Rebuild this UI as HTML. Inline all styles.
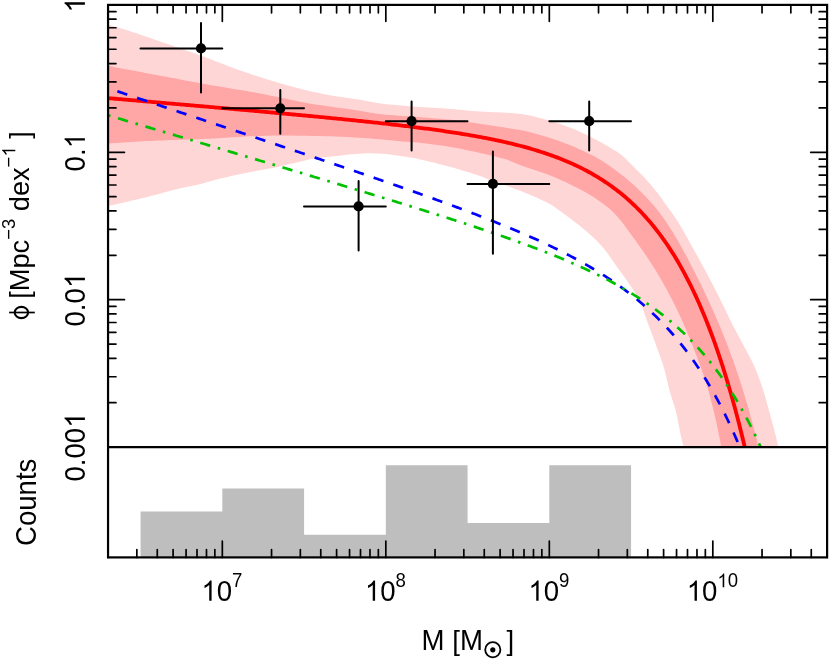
<!DOCTYPE html>
<html><head><meta charset="utf-8"><title>chart</title><style>html,body{margin:0;padding:0;background:#fff;overflow:hidden}svg{display:block}</style></head><body>
<svg width="830" height="664" viewBox="0 0 830 664">
<rect width="830" height="664" fill="#fff"/>
<defs><clipPath id="cp"><rect x="108.0" y="4.9" width="719.1" height="442.2"/></clipPath></defs>
<path d="M108.00 24.40 L112.20 25.64 L116.38 26.90 L120.56 28.18 L124.74 29.49 L128.90 30.82 L133.06 32.16 L137.21 33.54 L141.35 34.95 L145.48 36.40 L149.60 37.86 L153.72 39.33 L157.84 40.78 L161.98 42.21 L166.12 43.61 L170.26 45.00 L174.41 46.39 L178.55 47.79 L182.69 49.20 L186.82 50.64 L190.95 52.09 L195.07 53.55 L199.18 55.03 L203.29 56.53 L207.40 58.03 L211.49 59.56 L215.58 61.13 L219.65 62.73 L223.71 64.34 L227.79 65.93 L231.88 67.48 L235.98 68.98 L240.10 70.44 L244.24 71.87 L248.38 73.28 L252.53 74.66 L256.68 76.03 L260.84 77.37 L265.01 78.70 L269.18 80.00 L273.37 81.29 L277.56 82.54 L281.76 83.75 L285.97 84.93 L290.18 86.09 L294.41 87.23 L298.64 88.33 L302.88 89.40 L307.13 90.43 L311.39 91.41 L315.66 92.36 L319.94 93.27 L324.23 94.13 L328.52 94.94 L332.83 95.70 L337.14 96.39 L341.47 97.04 L345.80 97.66 L350.13 98.28 L354.45 98.92 L358.77 99.60 L363.08 100.35 L367.38 101.19 L371.67 102.04 L375.98 102.80 L380.30 103.41 L384.63 103.93 L388.98 104.40 L393.33 104.83 L397.69 105.23 L402.05 105.62 L406.41 105.99 L410.77 106.37 L415.13 106.73 L419.49 107.06 L423.85 107.35 L428.22 107.61 L432.58 107.84 L436.95 108.08 L441.32 108.32 L445.68 108.58 L450.04 108.88 L454.40 109.25 L458.75 109.67 L463.11 110.10 L467.46 110.54 L471.81 110.94 L476.17 111.29 L480.53 111.56 L484.90 111.78 L489.27 111.98 L493.64 112.16 L498.01 112.34 L502.38 112.55 L506.74 112.80 L511.11 113.09 L515.48 113.43 L519.83 113.85 L524.14 114.40 L528.44 115.17 L532.72 116.12 L536.98 117.18 L541.22 118.30 L545.44 119.44 L549.65 120.62 L553.84 121.89 L558.01 123.24 L562.15 124.66 L566.27 126.15 L570.35 127.70 L574.39 129.33 L578.40 131.06 L582.39 132.89 L586.34 134.78 L590.27 136.73 L594.17 138.71 L598.04 140.72 L601.88 142.81 L605.69 144.98 L609.46 147.19 L613.21 149.45 L616.96 151.72 L620.53 154.21 L623.82 157.04 L626.96 160.11 L630.05 163.25 L633.16 166.33 L636.28 169.40 L639.38 172.49 L642.42 175.62 L645.41 178.81 L648.34 182.06 L651.22 185.35 L654.04 188.70 L656.77 192.11 L659.41 195.58 L662.00 199.11 L664.55 202.67 L667.09 206.23 L669.66 209.78 L672.24 213.32 L674.76 216.89 L677.16 220.53 L679.45 224.24 L681.68 228.00 L683.85 231.80 L685.98 235.63 L688.10 239.46 L690.21 243.30 L692.35 247.11 L694.49 250.93 L696.62 254.74 L698.75 258.57 L700.86 262.39 L702.97 266.23 L705.06 270.07 L707.12 273.92 L709.17 277.78 L711.20 281.66 L713.20 285.54 L715.19 289.44 L717.17 293.34 L719.13 297.25 L721.08 301.16 L723.01 305.08 L724.91 309.03 L726.80 312.97 L728.69 316.91 L730.62 320.84 L732.59 324.74 L734.63 328.61 L736.69 332.46 L738.77 336.31 L740.84 340.16 L742.89 344.03 L744.92 347.90 L746.99 351.77 L749.06 355.63 L751.08 359.51 L753.02 363.43 L754.83 367.39 L756.51 371.42 L758.11 375.48 L759.64 379.59 L761.09 383.73 L762.49 387.88 L763.81 392.04 L765.06 396.22 L766.24 400.43 L767.38 404.66 L768.51 408.89 L769.66 413.11 L770.83 417.32 L772.00 421.54 L773.16 425.75 L774.30 429.98 L775.38 434.21 L776.41 438.46 L777.38 442.72 L778.30 447.00 L683.70 447.00 L682.74 443.39 L681.82 439.78 L680.95 436.15 L680.16 432.51 L679.45 428.85 L678.77 425.17 L678.09 421.50 L677.38 417.84 L676.60 414.20 L675.71 410.59 L674.69 407.01 L673.57 403.45 L672.42 399.89 L671.27 396.34 L670.17 392.77 L669.17 389.18 L668.26 385.56 L667.40 381.93 L666.56 378.29 L665.70 374.66 L664.79 371.04 L663.80 367.46 L662.70 363.90 L661.52 360.37 L660.28 356.85 L658.99 353.34 L657.70 349.84 L656.41 346.33 L655.14 342.83 L653.85 339.33 L652.55 335.83 L651.24 332.34 L649.93 328.85 L648.62 325.36 L647.33 321.86 L646.08 318.34 L644.86 314.80 L643.64 311.26 L642.37 307.75 L641.00 304.30 L639.49 300.91 L637.75 297.61 L635.88 294.37 L633.95 291.19 L631.93 288.05 L629.85 284.95 L627.75 281.87 L625.62 278.80 L623.45 275.77 L621.25 272.76 L619.04 269.75 L616.85 266.74 L614.69 263.70 L612.59 260.60 L610.50 257.50 L608.38 254.43 L606.17 251.44 L603.82 248.57 L601.36 245.76 L598.81 243.02 L596.19 240.34 L593.53 237.74 L590.81 235.21 L588.02 232.73 L585.18 230.31 L582.29 227.93 L579.39 225.58 L576.47 223.26 L573.53 220.97 L570.56 218.72 L567.56 216.50 L564.54 214.30 L561.53 212.11 L558.52 209.90 L555.52 207.66 L552.44 205.58 L549.22 203.74 L545.91 202.03 L542.54 200.40 L539.13 198.84 L535.72 197.32 L532.31 195.82 L528.87 194.37 L525.42 192.97 L521.95 191.59 L518.47 190.24 L514.99 188.90 L511.50 187.58 L508.00 186.29 L504.50 185.02 L500.98 183.76 L497.47 182.51 L493.96 181.25 L490.45 179.98 L486.95 178.68 L483.47 177.36 L479.97 176.06 L476.45 174.85 L472.91 173.68 L469.35 172.55 L465.79 171.45 L462.21 170.38 L458.63 169.33 L455.04 168.30 L451.45 167.30 L447.86 166.32 L444.26 165.35 L440.65 164.39 L437.04 163.46 L433.42 162.54 L429.79 161.66 L426.17 160.79 L422.53 159.96 L418.89 159.16 L415.24 158.37 L411.58 157.66 L407.90 157.07 L404.22 156.49 L400.53 155.93 L396.83 155.39 L393.12 154.90 L389.41 154.46 L385.70 154.08 L381.98 153.79 L378.27 153.58 L374.54 153.42 L370.81 153.32 L367.08 153.32 L363.36 153.45 L359.63 153.66 L355.91 153.91 L352.19 154.19 L348.48 154.58 L344.78 155.03 L341.07 155.48 L337.37 155.89 L333.65 156.28 L329.94 156.66 L326.22 157.05 L322.52 157.48 L318.82 157.94 L315.14 158.46 L311.47 159.09 L307.82 159.85 L304.18 160.69 L300.55 161.56 L296.92 162.42 L293.28 163.26 L289.65 164.12 L286.03 165.00 L282.40 165.87 L278.76 166.69 L275.12 167.46 L271.46 168.17 L267.79 168.85 L264.11 169.50 L260.44 170.17 L256.78 170.86 L253.12 171.58 L249.46 172.30 L245.80 173.04 L242.15 173.79 L238.50 174.55 L234.85 175.33 L231.20 176.11 L227.56 176.91 L223.92 177.73 L220.29 178.59 L216.68 179.49 L213.08 180.48 L209.49 181.51 L205.91 182.54 L202.31 183.54 L198.70 184.44 L195.06 185.26 L191.41 186.01 L187.75 186.75 L184.09 187.50 L180.45 188.30 L176.83 189.17 L173.22 190.09 L169.61 191.05 L166.01 192.03 L162.41 193.02 L158.81 193.99 L155.21 194.94 L151.59 195.85 L147.97 196.74 L144.35 197.63 L140.72 198.51 L137.10 199.38 L133.47 200.24 L129.84 201.09 L126.20 201.94 L122.57 202.77 L118.93 203.59 L115.29 204.41 L111.65 205.21 L108.00 206.00 Z" fill="#ffd6d6" clip-path="url(#cp)"/>
<path d="M108.00 65.80 L112.14 66.59 L116.28 67.39 L120.42 68.18 L124.56 68.97 L128.70 69.76 L132.84 70.54 L136.98 71.33 L141.12 72.11 L145.26 72.89 L149.40 73.67 L153.54 74.45 L157.68 75.23 L161.82 76.00 L165.97 76.78 L170.11 77.56 L174.25 78.34 L178.39 79.11 L182.53 79.89 L186.68 80.66 L190.82 81.43 L194.96 82.19 L199.11 82.95 L203.26 83.70 L207.40 84.44 L211.55 85.17 L215.71 85.89 L219.86 86.59 L224.02 87.29 L228.17 87.99 L232.33 88.70 L236.48 89.41 L240.64 90.11 L244.79 90.82 L248.95 91.53 L253.10 92.25 L257.25 92.99 L261.39 93.76 L265.52 94.57 L269.65 95.40 L273.78 96.25 L277.91 97.10 L282.04 97.95 L286.17 98.80 L290.29 99.67 L294.42 100.55 L298.54 101.42 L302.67 102.25 L306.81 103.04 L310.96 103.76 L315.12 104.41 L319.29 105.02 L323.46 105.61 L327.64 106.19 L331.81 106.79 L335.98 107.38 L340.16 107.96 L344.33 108.54 L348.50 109.12 L352.68 109.71 L356.85 110.32 L361.01 110.96 L365.17 111.68 L369.32 112.44 L373.47 113.16 L377.63 113.77 L381.81 114.24 L386.00 114.64 L390.20 115.01 L394.40 115.35 L398.60 115.66 L402.81 115.95 L407.02 116.24 L411.23 116.54 L415.43 116.84 L419.63 117.17 L423.84 117.51 L428.04 117.83 L432.24 118.15 L436.44 118.48 L440.64 118.83 L444.84 119.20 L449.03 119.61 L453.22 120.08 L457.40 120.60 L461.57 121.16 L465.75 121.75 L469.92 122.35 L474.09 122.96 L478.26 123.57 L482.43 124.17 L486.60 124.80 L490.77 125.43 L494.93 126.07 L499.10 126.72 L503.26 127.36 L507.43 128.01 L511.60 128.63 L515.77 129.26 L519.91 129.98 L524.03 130.83 L528.14 131.77 L532.23 132.80 L536.31 133.90 L540.37 135.05 L544.41 136.24 L548.44 137.46 L552.46 138.74 L556.45 140.09 L560.44 141.50 L564.39 142.97 L568.32 144.49 L572.22 146.06 L576.10 147.69 L579.97 149.39 L583.82 151.15 L587.62 152.98 L591.39 154.89 L595.10 156.86 L598.75 158.92 L602.35 161.12 L605.90 163.42 L609.39 165.80 L612.82 168.23 L616.22 170.72 L619.58 173.26 L622.92 175.87 L626.20 178.54 L629.44 181.26 L632.61 184.03 L635.71 186.86 L638.75 189.75 L641.77 192.70 L644.75 195.71 L647.69 198.77 L650.57 201.90 L653.37 205.07 L656.09 208.30 L658.71 211.58 L661.21 214.89 L663.64 218.27 L666.02 221.70 L668.34 225.18 L670.62 228.71 L672.86 232.28 L675.05 235.89 L677.20 239.54 L679.32 243.21 L681.40 246.91 L683.45 250.63 L685.47 254.37 L687.46 258.12 L689.43 261.88 L691.38 265.64 L693.30 269.40 L695.21 273.15 L697.11 276.90 L698.98 280.66 L700.85 284.43 L702.69 288.21 L704.52 292.01 L706.32 295.82 L708.11 299.65 L709.88 303.48 L711.63 307.33 L713.35 311.18 L715.06 315.05 L716.74 318.93 L718.40 322.81 L720.04 326.70 L721.66 330.60 L723.25 334.51 L724.81 338.43 L726.35 342.35 L727.86 346.27 L729.35 350.20 L730.81 354.14 L732.25 358.09 L733.66 362.06 L735.05 366.04 L736.41 370.03 L737.75 374.03 L739.07 378.03 L740.37 382.05 L741.65 386.07 L742.91 390.10 L744.15 394.14 L745.37 398.17 L746.57 402.21 L747.75 406.25 L748.92 410.30 L750.07 414.35 L751.19 418.41 L752.30 422.47 L753.38 426.55 L754.44 430.63 L755.49 434.71 L756.51 438.80 L757.52 442.90 L758.50 447.00 L721.20 447.00 L720.51 443.13 L719.80 439.26 L719.06 435.40 L718.29 431.55 L717.49 427.71 L716.66 423.87 L715.81 420.03 L714.93 416.20 L714.03 412.37 L713.11 408.54 L712.16 404.72 L711.18 400.91 L710.17 397.12 L709.14 393.33 L708.07 389.56 L706.96 385.80 L705.79 382.05 L704.58 378.32 L703.33 374.59 L702.04 370.87 L700.71 367.17 L699.36 363.47 L697.99 359.78 L696.60 356.10 L695.20 352.43 L693.79 348.77 L692.37 345.11 L690.92 341.45 L689.45 337.81 L687.95 334.17 L686.43 330.54 L684.88 326.92 L683.31 323.32 L681.70 319.73 L680.07 316.16 L678.42 312.61 L676.72 309.07 L675.00 305.54 L673.24 302.02 L671.45 298.51 L669.63 295.02 L667.78 291.55 L665.90 288.09 L663.99 284.65 L662.06 281.23 L660.09 277.83 L658.10 274.46 L656.07 271.11 L654.00 267.77 L651.90 264.46 L649.75 261.16 L647.58 257.87 L645.38 254.61 L643.15 251.36 L640.90 248.13 L638.63 244.92 L636.33 241.73 L634.03 238.55 L631.71 235.38 L629.40 232.18 L627.07 228.96 L624.71 225.77 L622.30 222.62 L619.84 219.54 L617.30 216.55 L614.68 213.69 L611.94 210.97 L609.04 208.37 L605.99 205.88 L602.83 203.49 L599.60 201.19 L596.34 198.99 L593.06 196.87 L589.72 194.81 L586.33 192.81 L582.89 190.87 L579.42 188.99 L575.93 187.17 L572.42 185.40 L568.90 183.68 L565.35 182.01 L561.77 180.38 L558.17 178.80 L554.54 177.27 L550.89 175.78 L547.24 174.34 L543.57 172.96 L539.87 171.65 L536.14 170.41 L532.40 169.20 L528.65 167.99 L524.92 166.75 L521.22 165.45 L517.55 164.03 L513.93 162.46 L510.31 160.92 L506.64 159.58 L502.90 158.45 L499.12 157.41 L495.31 156.44 L491.48 155.53 L487.63 154.66 L483.78 153.81 L479.94 152.97 L476.10 152.12 L472.26 151.28 L468.42 150.45 L464.57 149.64 L460.72 148.85 L456.86 148.10 L453.00 147.39 L449.13 146.74 L445.25 146.12 L441.37 145.52 L437.48 144.95 L433.58 144.41 L429.68 143.90 L425.78 143.42 L421.88 142.99 L417.97 142.61 L414.06 142.28 L410.14 141.98 L406.22 141.69 L402.30 141.39 L398.38 141.06 L394.47 140.69 L390.56 140.31 L386.65 139.92 L382.74 139.55 L378.82 139.21 L374.91 138.90 L370.99 138.60 L367.07 138.31 L363.15 138.04 L359.23 137.78 L355.31 137.54 L351.38 137.31 L347.46 137.08 L343.54 136.86 L339.61 136.66 L335.69 136.49 L331.76 136.34 L327.83 136.23 L323.91 136.13 L319.98 136.04 L316.05 135.96 L312.12 135.89 L308.19 135.83 L304.26 135.77 L300.33 135.70 L296.40 135.63 L292.47 135.58 L288.55 135.53 L284.62 135.50 L280.69 135.50 L276.76 135.54 L272.83 135.60 L268.90 135.69 L264.97 135.80 L261.04 135.92 L257.12 136.03 L253.19 136.18 L249.27 136.36 L245.34 136.57 L241.42 136.78 L237.50 137.01 L233.57 137.23 L229.65 137.47 L225.73 137.72 L221.81 137.99 L217.89 138.25 L213.97 138.49 L210.04 138.70 L206.12 138.87 L202.19 139.04 L198.27 139.18 L194.34 139.32 L190.41 139.45 L186.48 139.57 L182.56 139.70 L178.63 139.82 L174.70 139.95 L170.77 140.08 L166.85 140.23 L162.92 140.38 L159.00 140.55 L155.07 140.73 L151.15 140.92 L147.22 141.12 L143.30 141.33 L139.38 141.54 L135.45 141.76 L131.53 141.99 L127.61 142.23 L123.69 142.47 L119.76 142.72 L115.84 142.97 L111.92 143.23 L108.00 143.50 Z" fill="#ffa6a6" clip-path="url(#cp)"/>
<path d="M140.58 557.40 L140.58 511.60 L222.33 511.60 L222.33 488.40 L304.08 488.40 L304.08 534.70 L385.83 534.70 L385.83 465.30 L467.58 465.30 L467.58 523.00 L549.32 523.00 L549.32 465.30 L631.07 465.30 L631.07 557.40 Z" fill="#bebebe"/>
<path d="M108.05 98.13 L109.85 98.29 L111.65 98.44 L113.46 98.60 L115.26 98.75 L117.06 98.91 L118.86 99.06 L120.66 99.22 L122.47 99.37 L124.27 99.53 L126.07 99.68 L127.87 99.84 L129.68 99.99 L131.48 100.15 L133.28 100.31 L135.08 100.46 L136.88 100.62 L138.69 100.77 L140.49 100.93 L142.29 101.08 L144.09 101.24 L145.89 101.40 L147.70 101.55 L149.50 101.71 L151.30 101.86 L153.10 102.02 L154.91 102.17 L156.71 102.33 L158.51 102.49 L160.31 102.64 L162.11 102.80 L163.92 102.96 L165.72 103.11 L167.52 103.27 L169.32 103.43 L171.12 103.58 L172.93 103.74 L174.73 103.89 L176.53 104.05 L178.33 104.21 L180.14 104.37 L181.94 104.52 L183.74 104.68 L185.54 104.84 L187.34 104.99 L189.15 105.15 L190.95 105.31 L192.75 105.46 L194.55 105.62 L196.35 105.78 L198.16 105.94 L199.96 106.09 L201.76 106.25 L203.56 106.41 L205.37 106.57 L207.17 106.73 L208.97 106.88 L210.77 107.04 L212.57 107.20 L214.38 107.36 L216.18 107.52 L217.98 107.68 L219.78 107.84 L221.58 107.99 L223.39 108.15 L225.19 108.31 L226.99 108.47 L228.79 108.63 L230.59 108.79 L232.40 108.95 L234.20 109.11 L236.00 109.27 L237.80 109.43 L239.61 109.59 L241.41 109.75 L243.21 109.91 L245.01 110.07 L246.81 110.23 L248.62 110.39 L250.42 110.55 L252.22 110.72 L254.02 110.88 L255.82 111.04 L257.63 111.20 L259.43 111.36 L261.23 111.53 L263.03 111.69 L264.84 111.85 L266.64 112.01 L268.44 112.18 L270.24 112.34 L272.04 112.50 L273.85 112.67 L275.65 112.83 L277.45 113.00 L279.25 113.16 L281.05 113.33 L282.86 113.49 L284.66 113.66 L286.46 113.82 L288.26 113.99 L290.07 114.16 L291.87 114.32 L293.67 114.49 L295.47 114.66 L297.27 114.83 L299.08 114.99 L300.88 115.16 L302.68 115.33 L304.48 115.50 L306.28 115.67 L308.09 115.84 L309.89 116.01 L311.69 116.18 L313.49 116.35 L315.29 116.52 L317.10 116.70 L318.90 116.87 L320.70 117.04 L322.50 117.21 L324.31 117.39 L326.11 117.56 L327.91 117.74 L329.71 117.91 L331.51 118.09 L333.32 118.27 L335.12 118.44 L336.92 118.62 L338.72 118.80 L340.52 118.98 L342.33 119.16 L344.13 119.34 L345.93 119.52 L347.73 119.70 L349.54 119.88 L351.34 120.07 L353.14 120.25 L354.94 120.44 L356.74 120.62 L358.55 120.81 L360.35 121.00 L362.15 121.18 L363.95 121.37 L365.75 121.56 L367.56 121.75 L369.36 121.94 L371.16 122.14 L372.96 122.33 L374.77 122.52 L376.57 122.72 L378.37 122.92 L380.17 123.11 L381.97 123.31 L383.78 123.51 L385.58 123.71 L387.38 123.92 L389.18 124.12 L390.98 124.32 L392.79 124.53 L394.59 124.74 L396.39 124.95 L398.19 125.16 L400.00 125.37 L401.80 125.58 L403.60 125.80 L405.40 126.01 L407.20 126.23 L409.01 126.45 L410.81 126.67 L412.61 126.89 L414.41 127.12 L416.21 127.35 L418.02 127.57 L419.82 127.80 L421.62 128.04 L423.42 128.27 L425.22 128.51 L427.03 128.74 L428.83 128.99 L430.63 129.23 L432.43 129.47 L434.24 129.72 L436.04 129.97 L437.84 130.22 L439.64 130.48 L441.44 130.73 L443.25 130.99 L445.05 131.26 L446.85 131.52 L448.65 131.79 L450.45 132.06 L452.26 132.34 L454.06 132.61 L455.86 132.89 L457.66 133.18 L459.47 133.46 L461.27 133.75 L463.07 134.05 L464.87 134.35 L466.67 134.65 L468.48 134.95 L470.28 135.26 L472.08 135.57 L473.88 135.89 L475.68 136.21 L477.49 136.54 L479.29 136.87 L481.09 137.20 L482.89 137.54 L484.70 137.88 L486.50 138.23 L488.30 138.58 L490.10 138.94 L491.90 139.31 L493.71 139.68 L495.51 140.05 L497.31 140.43 L499.11 140.82 L500.91 141.21 L502.72 141.61 L504.52 142.01 L506.32 142.42 L508.12 142.84 L509.93 143.27 L511.73 143.70 L513.53 144.14 L515.33 144.58 L517.13 145.04 L518.94 145.50 L520.74 145.97 L522.54 146.44 L524.34 146.93 L526.14 147.42 L527.95 147.92 L529.75 148.44 L531.55 148.96 L533.35 149.49 L535.15 150.03 L536.96 150.58 L538.76 151.14 L540.56 151.71 L542.36 152.29 L544.17 152.88 L545.97 153.48 L547.77 154.10 L549.57 154.72 L551.37 155.36 L553.18 156.01 L554.98 156.68 L556.78 157.35 L558.58 158.04 L560.38 158.75 L562.19 159.47 L563.99 160.20 L565.79 160.95 L567.59 161.71 L569.40 162.49 L571.20 163.28 L573.00 164.09 L574.80 164.92 L576.60 165.77 L578.41 166.63 L580.21 167.51 L582.01 168.41 L583.81 169.33 L585.61 170.27 L587.42 171.23 L589.22 172.21 L591.02 173.21 L592.82 174.23 L594.63 175.28 L596.43 176.34 L598.23 177.44 L600.03 178.55 L601.83 179.69 L603.64 180.86 L605.44 182.05 L607.24 183.27 L609.04 184.51 L610.84 185.79 L612.65 187.09 L614.45 188.42 L616.25 189.78 L618.05 191.18 L619.86 192.60 L621.66 194.06 L623.46 195.55 L625.26 197.07 L627.06 198.64 L628.87 200.23 L630.67 201.87 L632.47 203.54 L634.27 205.25 L636.07 207.00 L637.88 208.79 L639.68 210.63 L641.48 212.50 L643.28 214.43 L645.08 216.39 L646.89 218.41 L648.69 220.47 L650.49 222.58 L652.29 224.74 L654.10 226.95 L655.90 229.22 L657.70 231.54 L659.50 233.91 L661.30 236.35 L663.11 238.84 L664.91 241.39 L666.71 244.00 L668.51 246.68 L670.31 249.42 L672.12 252.22 L673.92 255.10 L675.72 258.05 L677.52 261.06 L679.33 264.15 L681.13 267.32 L682.93 270.56 L684.73 273.89 L686.53 277.29 L688.34 280.78 L690.14 284.35 L691.94 288.01 L693.74 291.76 L695.54 295.61 L697.35 299.55 L699.15 303.58 L700.95 307.72 L702.75 311.96 L704.56 316.30 L706.36 320.75 L708.16 325.31 L709.96 329.99 L711.76 334.78 L713.57 339.69 L715.37 344.72 L717.17 349.88 L718.97 355.17 L720.77 360.59 L722.58 366.14 L724.38 371.83 L726.18 377.67 L727.98 383.65 L729.78 389.78 L731.59 396.06 L733.39 402.51 L735.19 409.11 L736.99 415.88 L738.80 422.82 L740.60 429.93 L742.40 437.22 L744.20 444.70 L746.00 452.36 L747.81 460.22 L749.61 468.28 L751.41 476.54 L753.21 485.00 L755.01 493.68 L756.82 502.58 L758.62 511.71 L760.42 521.06 L762.22 530.65 L764.03 540.49 L765.83 550.57 L767.63 560.91 L769.43 571.51 L771.23 582.38 L773.04 593.52 L774.84 604.95 L776.64 616.66 L778.44 628.68 L780.24 640.99 L782.05 653.62 L783.85 666.58 L785.65 679.86 L787.45 693.47 L789.26 707.44 L791.06 721.76 L792.86 736.44 L794.66 751.50 L796.46 766.94 L798.27 782.77 L800.07 799.00 L801.87 815.65 L803.67 832.73 L805.47 850.23 L807.28 868.19 L809.08 886.60 L810.88 905.48 L812.68 924.84 L814.49 944.70 L816.29 965.06 L818.09 985.94 L819.89 1007.35 L821.69 1029.32 L823.50 1051.84 L825.30 1074.93 L827.10 1098.62" fill="none" stroke="#ff0000" stroke-width="3.8" clip-path="url(#cp)"/>
<path d="M117.37 91.31 L119.15 91.90 L120.93 92.49 L122.71 93.09 L124.48 93.68 L126.26 94.27 L128.04 94.87 L129.82 95.46 L131.60 96.06 L133.38 96.65 L135.16 97.24 L136.94 97.84 L138.71 98.43 L140.49 99.03 L142.27 99.62 L144.05 100.21 L145.83 100.81 L147.61 101.40 L149.39 102.00 L151.17 102.59 L152.94 103.19 L154.72 103.78 L156.50 104.37 L158.28 104.97 L160.06 105.56 L161.84 106.16 L163.62 106.75 L165.40 107.35 L167.17 107.94 L168.95 108.53 L170.73 109.13 L172.51 109.72 L174.29 110.32 L176.07 110.91 L177.85 111.51 L179.63 112.10 L181.41 112.70 L183.18 113.29 L184.96 113.89 L186.74 114.48 L188.52 115.08 L190.30 115.67 L192.08 116.27 L193.86 116.86 L195.64 117.46 L197.41 118.05 L199.19 118.65 L200.97 119.24 L202.75 119.84 L204.53 120.43 L206.31 121.03 L208.09 121.62 L209.87 122.22 L211.64 122.81 L213.42 123.41 L215.20 124.00 L216.98 124.60 L218.76 125.20 L220.54 125.79 L222.32 126.39 L224.10 126.98 L225.87 127.58 L227.65 128.17 L229.43 128.77 L231.21 129.37 L232.99 129.96 L234.77 130.56 L236.55 131.16 L238.33 131.75 L240.10 132.35 L241.88 132.95 L243.66 133.54 L245.44 134.14 L247.22 134.74 L249.00 135.33 L250.78 135.93 L252.56 136.53 L254.33 137.12 L256.11 137.72 L257.89 138.32 L259.67 138.92 L261.45 139.51 L263.23 140.11 L265.01 140.71 L266.79 141.31 L268.57 141.91 L270.34 142.50 L272.12 143.10 L273.90 143.70 L275.68 144.30 L277.46 144.90 L279.24 145.50 L281.02 146.10 L282.80 146.69 L284.57 147.29 L286.35 147.89 L288.13 148.49 L289.91 149.09 L291.69 149.69 L293.47 150.29 L295.25 150.89 L297.03 151.49 L298.80 152.09 L300.58 152.70 L302.36 153.30 L304.14 153.90 L305.92 154.50 L307.70 155.10 L309.48 155.70 L311.26 156.30 L313.03 156.91 L314.81 157.51 L316.59 158.11 L318.37 158.72 L320.15 159.32 L321.93 159.92 L323.71 160.53 L325.49 161.13 L327.26 161.73 L329.04 162.34 L330.82 162.94 L332.60 163.55 L334.38 164.15 L336.16 164.76 L337.94 165.37 L339.72 165.97 L341.49 166.58 L343.27 167.19 L345.05 167.79 L346.83 168.40 L348.61 169.01 L350.39 169.62 L352.17 170.23 L353.95 170.84 L355.72 171.45 L357.50 172.06 L359.28 172.67 L361.06 173.28 L362.84 173.89 L364.62 174.50 L366.40 175.11 L368.18 175.73 L369.96 176.34 L371.73 176.95 L373.51 177.57 L375.29 178.18 L377.07 178.80 L378.85 179.41 L380.63 180.03 L382.41 180.65 L384.19 181.27 L385.96 181.88 L387.74 182.50 L389.52 183.12 L391.30 183.74 L393.08 184.36 L394.86 184.99 L396.64 185.61 L398.42 186.23 L400.19 186.86 L401.97 187.48 L403.75 188.11 L405.53 188.73 L407.31 189.36 L409.09 189.99 L410.87 190.62 L412.65 191.25 L414.42 191.88 L416.20 192.51 L417.98 193.14 L419.76 193.78 L421.54 194.41 L423.32 195.05 L425.10 195.68 L426.88 196.32 L428.65 196.96 L430.43 197.60 L432.21 198.24 L433.99 198.89 L435.77 199.53 L437.55 200.17 L439.33 200.82 L441.11 201.47 L442.88 202.12 L444.66 202.77 L446.44 203.42 L448.22 204.08 L450.00 204.73 L451.78 205.39 L453.56 206.05 L455.34 206.71 L457.12 207.37 L458.89 208.03 L460.67 208.70 L462.45 209.36 L464.23 210.03 L466.01 210.70 L467.79 211.38 L469.57 212.05 L471.35 212.73 L473.12 213.41 L474.90 214.09 L476.68 214.77 L478.46 215.46 L480.24 216.15 L482.02 216.84 L483.80 217.53 L485.58 218.22 L487.35 218.92 L489.13 219.62 L490.91 220.33 L492.69 221.03 L494.47 221.74 L496.25 222.46 L498.03 223.17 L499.81 223.89 L501.58 224.61 L503.36 225.33 L505.14 226.06 L506.92 226.79 L508.70 227.53 L510.48 228.27 L512.26 229.01 L514.04 229.76 L515.81 230.51 L517.59 231.26 L519.37 232.02 L521.15 232.78 L522.93 233.55 L524.71 234.32 L526.49 235.09 L528.27 235.87 L530.04 236.66 L531.82 237.45 L533.60 238.24 L535.38 239.04 L537.16 239.84 L538.94 240.65 L540.72 241.47 L542.50 242.29 L544.27 243.12 L546.05 243.95 L547.83 244.79 L549.61 245.64 L551.39 246.49 L553.17 247.35 L554.95 248.21 L556.73 249.08 L558.51 249.96 L560.28 250.85 L562.06 251.74 L563.84 252.64 L565.62 253.55 L567.40 254.47 L569.18 255.39 L570.96 256.33 L572.74 257.27 L574.51 258.22 L576.29 259.18 L578.07 260.15 L579.85 261.13 L581.63 262.12 L583.41 263.12 L585.19 264.13 L586.97 265.15 L588.74 266.18 L590.52 267.22 L592.30 268.27 L594.08 269.34 L595.86 270.41 L597.64 271.50 L599.42 272.60 L601.20 273.72 L602.97 274.84 L604.75 275.99 L606.53 277.14 L608.31 278.31 L610.09 279.49 L611.87 280.69 L613.65 281.91 L615.43 283.14 L617.20 284.38 L618.98 285.65 L620.76 286.93 L622.54 288.22 L624.32 289.54 L626.10 290.87 L627.88 292.22 L629.66 293.59 L631.43 294.98 L633.21 296.40 L634.99 297.83 L636.77 299.28 L638.55 300.76 L640.33 302.25 L642.11 303.77 L643.89 305.32 L645.67 306.89 L647.44 308.48 L649.22 310.10 L651.00 311.74 L652.78 313.41 L654.56 315.11 L656.34 316.84 L658.12 318.59 L659.90 320.38 L661.67 322.19 L663.45 324.04 L665.23 325.91 L667.01 327.82 L668.79 329.77 L670.57 331.74 L672.35 333.76 L674.13 335.80 L675.90 337.89 L677.68 340.01 L679.46 342.18 L681.24 344.38 L683.02 346.62 L684.80 348.90 L686.58 351.23 L688.36 353.60 L690.13 356.02 L691.91 358.48 L693.69 360.99 L695.47 363.55 L697.25 366.16 L699.03 368.82 L700.81 371.53 L702.59 374.30 L704.36 377.12 L706.14 380.00 L707.92 382.93 L709.70 385.93 L711.48 388.99 L713.26 392.10 L715.04 395.29 L716.82 398.54 L718.59 401.85 L720.37 405.24 L722.15 408.69 L723.93 412.22 L725.71 415.82 L727.49 419.50 L729.27 423.26 L731.05 427.10 L732.82 431.02 L734.60 435.02 L736.38 439.11 L738.16 443.29 L739.94 447.56 L741.72 451.92 L743.50 456.38 L745.28 460.94 L747.06 465.60 L748.83 470.36 L750.61 475.23 L752.39 480.20 L754.17 485.29 L755.95 490.49 L757.73 495.80 L759.51 501.24 L761.29 506.80 L763.06 512.49 L764.84 518.30 L766.62 524.25 L768.40 530.33 L770.18 536.56 L771.96 542.92 L773.74 549.43 L775.52 556.10 L777.29 562.91 L779.07 569.88 L780.85 577.02 L782.63 584.32 L784.41 591.79 L786.19 599.44 L787.97 607.27 L789.75 615.27 L791.52 623.47 L793.30 631.86 L795.08 640.45 L796.86 649.24 L798.64 658.24 L800.42 667.45 L802.20 676.88 L803.98 686.53 L805.75 696.42 L807.53 706.53 L809.31 716.90 L811.09 727.50 L812.87 738.37 L814.65 749.49 L816.43 760.88 L818.21 772.55 L819.98 784.49 L821.76 796.73 L823.54 809.26 L825.32 822.09 L827.10 835.23" fill="none" stroke="#0000ff" stroke-width="2.7" stroke-dasharray="10.4 10.4" clip-path="url(#cp)"/>
<path d="M108.05 115.32 L109.85 115.85 L111.65 116.39 L113.46 116.93 L115.26 117.46 L117.06 118.00 L118.86 118.54 L120.66 119.07 L122.47 119.61 L124.27 120.14 L126.07 120.68 L127.87 121.22 L129.68 121.75 L131.48 122.29 L133.28 122.83 L135.08 123.36 L136.88 123.90 L138.69 124.44 L140.49 124.97 L142.29 125.51 L144.09 126.05 L145.89 126.58 L147.70 127.12 L149.50 127.66 L151.30 128.19 L153.10 128.73 L154.91 129.27 L156.71 129.80 L158.51 130.34 L160.31 130.88 L162.11 131.42 L163.92 131.95 L165.72 132.49 L167.52 133.03 L169.32 133.56 L171.12 134.10 L172.93 134.64 L174.73 135.17 L176.53 135.71 L178.33 136.25 L180.14 136.78 L181.94 137.32 L183.74 137.86 L185.54 138.40 L187.34 138.93 L189.15 139.47 L190.95 140.01 L192.75 140.54 L194.55 141.08 L196.35 141.62 L198.16 142.16 L199.96 142.69 L201.76 143.23 L203.56 143.77 L205.37 144.31 L207.17 144.84 L208.97 145.38 L210.77 145.92 L212.57 146.46 L214.38 146.99 L216.18 147.53 L217.98 148.07 L219.78 148.61 L221.58 149.15 L223.39 149.68 L225.19 150.22 L226.99 150.76 L228.79 151.30 L230.59 151.84 L232.40 152.37 L234.20 152.91 L236.00 153.45 L237.80 153.99 L239.61 154.53 L241.41 155.06 L243.21 155.60 L245.01 156.14 L246.81 156.68 L248.62 157.22 L250.42 157.76 L252.22 158.30 L254.02 158.84 L255.82 159.37 L257.63 159.91 L259.43 160.45 L261.23 160.99 L263.03 161.53 L264.84 162.07 L266.64 162.61 L268.44 163.15 L270.24 163.69 L272.04 164.23 L273.85 164.77 L275.65 165.31 L277.45 165.85 L279.25 166.39 L281.05 166.93 L282.86 167.47 L284.66 168.01 L286.46 168.55 L288.26 169.09 L290.07 169.63 L291.87 170.17 L293.67 170.71 L295.47 171.25 L297.27 171.79 L299.08 172.33 L300.88 172.88 L302.68 173.42 L304.48 173.96 L306.28 174.50 L308.09 175.04 L309.89 175.59 L311.69 176.13 L313.49 176.67 L315.29 177.21 L317.10 177.76 L318.90 178.30 L320.70 178.84 L322.50 179.38 L324.31 179.93 L326.11 180.47 L327.91 181.02 L329.71 181.56 L331.51 182.10 L333.32 182.65 L335.12 183.19 L336.92 183.74 L338.72 184.28 L340.52 184.83 L342.33 185.37 L344.13 185.92 L345.93 186.47 L347.73 187.01 L349.54 187.56 L351.34 188.11 L353.14 188.65 L354.94 189.20 L356.74 189.75 L358.55 190.30 L360.35 190.85 L362.15 191.39 L363.95 191.94 L365.75 192.49 L367.56 193.04 L369.36 193.59 L371.16 194.14 L372.96 194.69 L374.77 195.24 L376.57 195.80 L378.37 196.35 L380.17 196.90 L381.97 197.45 L383.78 198.01 L385.58 198.56 L387.38 199.11 L389.18 199.67 L390.98 200.22 L392.79 200.78 L394.59 201.33 L396.39 201.89 L398.19 202.45 L400.00 203.01 L401.80 203.56 L403.60 204.12 L405.40 204.68 L407.20 205.24 L409.01 205.80 L410.81 206.36 L412.61 206.93 L414.41 207.49 L416.21 208.05 L418.02 208.61 L419.82 209.18 L421.62 209.74 L423.42 210.31 L425.22 210.88 L427.03 211.44 L428.83 212.01 L430.63 212.58 L432.43 213.15 L434.24 213.72 L436.04 214.29 L437.84 214.87 L439.64 215.44 L441.44 216.02 L443.25 216.59 L445.05 217.17 L446.85 217.75 L448.65 218.32 L450.45 218.90 L452.26 219.48 L454.06 220.07 L455.86 220.65 L457.66 221.23 L459.47 221.82 L461.27 222.41 L463.07 223.00 L464.87 223.58 L466.67 224.18 L468.48 224.77 L470.28 225.36 L472.08 225.96 L473.88 226.55 L475.68 227.15 L477.49 227.75 L479.29 228.35 L481.09 228.96 L482.89 229.56 L484.70 230.17 L486.50 230.78 L488.30 231.39 L490.10 232.00 L491.90 232.62 L493.71 233.23 L495.51 233.85 L497.31 234.47 L499.11 235.09 L500.91 235.72 L502.72 236.35 L504.52 236.98 L506.32 237.61 L508.12 238.24 L509.93 238.88 L511.73 239.52 L513.53 240.16 L515.33 240.81 L517.13 241.46 L518.94 242.11 L520.74 242.76 L522.54 243.42 L524.34 244.08 L526.14 244.74 L527.95 245.41 L529.75 246.07 L531.55 246.75 L533.35 247.42 L535.15 248.10 L536.96 248.79 L538.76 249.48 L540.56 250.17 L542.36 250.86 L544.17 251.56 L545.97 252.27 L547.77 252.98 L549.57 253.69 L551.37 254.40 L553.18 255.13 L554.98 255.85 L556.78 256.58 L558.58 257.32 L560.38 258.06 L562.19 258.81 L563.99 259.56 L565.79 260.32 L567.59 261.08 L569.40 261.85 L571.20 262.63 L573.00 263.41 L574.80 264.20 L576.60 264.99 L578.41 265.79 L580.21 266.60 L582.01 267.42 L583.81 268.24 L585.61 269.07 L587.42 269.90 L589.22 270.75 L591.02 271.60 L592.82 272.46 L594.63 273.33 L596.43 274.21 L598.23 275.09 L600.03 275.99 L601.83 276.89 L603.64 277.81 L605.44 278.73 L607.24 279.67 L609.04 280.61 L610.84 281.56 L612.65 282.53 L614.45 283.51 L616.25 284.49 L618.05 285.49 L619.86 286.50 L621.66 287.53 L623.46 288.56 L625.26 289.61 L627.06 290.67 L628.87 291.75 L630.67 292.84 L632.47 293.94 L634.27 295.06 L636.07 296.19 L637.88 297.34 L639.68 298.50 L641.48 299.68 L643.28 300.88 L645.08 302.09 L646.89 303.32 L648.69 304.57 L650.49 305.84 L652.29 307.13 L654.10 308.43 L655.90 309.76 L657.70 311.10 L659.50 312.47 L661.30 313.86 L663.11 315.27 L664.91 316.70 L666.71 318.15 L668.51 319.63 L670.31 321.13 L672.12 322.66 L673.92 324.21 L675.72 325.79 L677.52 327.40 L679.33 329.03 L681.13 330.69 L682.93 332.38 L684.73 334.10 L686.53 335.86 L688.34 337.64 L690.14 339.45 L691.94 341.30 L693.74 343.18 L695.54 345.09 L697.35 347.04 L699.15 349.03 L700.95 351.06 L702.75 353.12 L704.56 355.22 L706.36 357.36 L708.16 359.54 L709.96 361.77 L711.76 364.04 L713.57 366.35 L715.37 368.71 L717.17 371.12 L718.97 373.57 L720.77 376.08 L722.58 378.63 L724.38 381.24 L726.18 383.89 L727.98 386.61 L729.78 389.38 L731.59 392.20 L733.39 395.09 L735.19 398.04 L736.99 401.04 L738.80 404.12 L740.60 407.25 L742.40 410.46 L744.20 413.73 L746.00 417.07 L747.81 420.49 L749.61 423.98 L751.41 427.54 L753.21 431.18 L755.01 434.91 L756.82 438.71 L758.62 442.60 L760.42 446.57 L762.22 450.64 L764.03 454.79 L765.83 459.04 L767.63 463.38 L769.43 467.82 L771.23 472.36 L773.04 477.00 L774.84 481.75 L776.64 486.61 L778.44 491.58 L780.24 496.66 L782.05 501.86 L783.85 507.17 L785.65 512.62 L787.45 518.18 L789.26 523.88 L791.06 529.71 L792.86 535.68 L794.66 541.78 L796.46 548.03 L798.27 554.43 L800.07 560.97 L801.87 567.67 L803.67 574.53 L805.47 581.55 L807.28 588.74 L809.08 596.10 L810.88 603.63 L812.68 611.35 L814.49 619.25 L816.29 627.33 L818.09 635.62 L819.89 644.10 L821.69 652.78 L823.50 661.68 L825.30 670.79 L827.10 680.12" fill="none" stroke="#00c000" stroke-width="2.7" stroke-dasharray="2.6 7.8 10.4 7.8" clip-path="url(#cp)"/>
<path d="M140.5 48.4 H222.3 M201.0 22.9 V92.5" stroke="#000" stroke-width="2" stroke-linecap="round" fill="none"/>
<circle cx="201.0" cy="48.4" r="5.1" fill="#000"/>
<path d="M222.3 108.3 H304.0 M280.3 90.0 V133.8" stroke="#000" stroke-width="2" stroke-linecap="round" fill="none"/>
<circle cx="280.3" cy="108.3" r="5.1" fill="#000"/>
<path d="M304.0 206.4 H385.8 M358.6 180.9 V250.5" stroke="#000" stroke-width="2" stroke-linecap="round" fill="none"/>
<circle cx="358.6" cy="206.4" r="5.1" fill="#000"/>
<path d="M385.8 121.2 H467.5 M411.6 101.5 V150.6" stroke="#000" stroke-width="2" stroke-linecap="round" fill="none"/>
<circle cx="411.6" cy="121.2" r="5.1" fill="#000"/>
<path d="M467.5 183.9 H549.3 M492.9 151.6 V253.7" stroke="#000" stroke-width="2" stroke-linecap="round" fill="none"/>
<circle cx="492.9" cy="183.9" r="5.1" fill="#000"/>
<path d="M549.3 121.2 H631.0 M589.2 101.5 V150.6" stroke="#000" stroke-width="2" stroke-linecap="round" fill="none"/>
<circle cx="589.2" cy="121.2" r="5.1" fill="#000"/>
<path d="M108.05 557.40 v-7.9 M108.05 4.90 v7.9 M136.84 557.40 v-7.9 M136.84 4.90 v7.9 M157.27 557.40 v-7.9 M157.27 4.90 v7.9 M173.11 557.40 v-7.9 M173.11 4.90 v7.9 M186.06 557.40 v-7.9 M186.06 4.90 v7.9 M197.00 557.40 v-7.9 M197.00 4.90 v7.9 M206.49 557.40 v-7.9 M206.49 4.90 v7.9 M214.85 557.40 v-7.9 M214.85 4.90 v7.9 M222.33 557.40 v-16.4 M222.33 4.90 v16.4 M271.55 557.40 v-7.9 M271.55 4.90 v7.9 M300.34 557.40 v-7.9 M300.34 4.90 v7.9 M320.76 557.40 v-7.9 M320.76 4.90 v7.9 M336.61 557.40 v-7.9 M336.61 4.90 v7.9 M349.55 557.40 v-7.9 M349.55 4.90 v7.9 M360.50 557.40 v-7.9 M360.50 4.90 v7.9 M369.98 557.40 v-7.9 M369.98 4.90 v7.9 M378.35 557.40 v-7.9 M378.35 4.90 v7.9 M385.83 557.40 v-16.4 M385.83 4.90 v16.4 M435.04 557.40 v-7.9 M435.04 4.90 v7.9 M463.83 557.40 v-7.9 M463.83 4.90 v7.9 M484.26 557.40 v-7.9 M484.26 4.90 v7.9 M500.11 557.40 v-7.9 M500.11 4.90 v7.9 M513.05 557.40 v-7.9 M513.05 4.90 v7.9 M524.00 557.40 v-7.9 M524.00 4.90 v7.9 M533.48 557.40 v-7.9 M533.48 4.90 v7.9 M541.84 557.40 v-7.9 M541.84 4.90 v7.9 M549.32 557.40 v-16.4 M549.32 4.90 v16.4 M598.54 557.40 v-7.9 M598.54 4.90 v7.9 M627.33 557.40 v-7.9 M627.33 4.90 v7.9 M647.76 557.40 v-7.9 M647.76 4.90 v7.9 M663.60 557.40 v-7.9 M663.60 4.90 v7.9 M676.55 557.40 v-7.9 M676.55 4.90 v7.9 M687.49 557.40 v-7.9 M687.49 4.90 v7.9 M696.98 557.40 v-7.9 M696.98 4.90 v7.9 M705.34 557.40 v-7.9 M705.34 4.90 v7.9 M712.82 557.40 v-16.4 M712.82 4.90 v16.4 M762.04 557.40 v-7.9 M762.04 4.90 v7.9 M790.83 557.40 v-7.9 M790.83 4.90 v7.9 M811.26 557.40 v-7.9 M811.26 4.90 v7.9 M827.10 557.40 v-7.9 M827.10 4.90 v7.9 M108.05 447.05 h16.4 M827.10 447.05 h-16.4 M108.05 402.68 h7.9 M827.10 402.68 h-7.9 M108.05 376.73 h7.9 M827.10 376.73 h-7.9 M108.05 358.32 h7.9 M827.10 358.32 h-7.9 M108.05 344.03 h7.9 M827.10 344.03 h-7.9 M108.05 332.36 h7.9 M827.10 332.36 h-7.9 M108.05 322.50 h7.9 M827.10 322.50 h-7.9 M108.05 313.95 h7.9 M827.10 313.95 h-7.9 M108.05 306.41 h7.9 M827.10 306.41 h-7.9 M108.05 299.67 h16.4 M827.10 299.67 h-16.4 M108.05 255.30 h7.9 M827.10 255.30 h-7.9 M108.05 229.35 h7.9 M827.10 229.35 h-7.9 M108.05 210.93 h7.9 M827.10 210.93 h-7.9 M108.05 196.65 h7.9 M827.10 196.65 h-7.9 M108.05 184.98 h7.9 M827.10 184.98 h-7.9 M108.05 175.11 h7.9 M827.10 175.11 h-7.9 M108.05 166.57 h7.9 M827.10 166.57 h-7.9 M108.05 159.03 h7.9 M827.10 159.03 h-7.9 M108.05 152.28 h16.4 M827.10 152.28 h-16.4 M108.05 107.92 h7.9 M827.10 107.92 h-7.9 M108.05 81.96 h7.9 M827.10 81.96 h-7.9 M108.05 63.55 h7.9 M827.10 63.55 h-7.9 M108.05 49.27 h7.9 M827.10 49.27 h-7.9 M108.05 37.60 h7.9 M827.10 37.60 h-7.9 M108.05 27.73 h7.9 M827.10 27.73 h-7.9 M108.05 19.18 h7.9 M827.10 19.18 h-7.9 M108.05 11.64 h7.9 M827.10 11.64 h-7.9 M108.05 4.90 h16.4 M827.10 4.90 h-16.4" stroke="#000" stroke-width="1.7" stroke-linecap="round" fill="none"/>
<rect x="108.05" y="4.90" width="719.05" height="552.50" fill="none" stroke="#000" stroke-width="2.2"/>
<path d="M108.05 447.05 H827.10" stroke="#000" stroke-width="2.2"/>
<g font-family="'Liberation Sans', sans-serif" font-size="27.6" fill="#000" style="opacity:0.999">
<g transform="translate(201.31 600.8) scale(1 1.070)"><path transform="translate(0.00 0.00) scale(0.01348 -0.01321)" d="M763 0H587V1120Q523 1059 420 998T235 907V1077Q383 1146 493 1245T650 1437H763Z"/><text x="15.35" y="0.00" font-size="27.6">0</text><text x="30.69" y="-12.62" font-size="18.6">7</text></g>
<g transform="translate(364.81 600.8) scale(1 1.070)"><path transform="translate(0.00 0.00) scale(0.01348 -0.01321)" d="M763 0H587V1120Q523 1059 420 998T235 907V1077Q383 1146 493 1245T650 1437H763Z"/><text x="15.35" y="0.00" font-size="27.6">0</text><text x="30.69" y="-12.62" font-size="18.6">8</text></g>
<g transform="translate(528.31 600.8) scale(1 1.070)"><path transform="translate(0.00 0.00) scale(0.01348 -0.01321)" d="M763 0H587V1120Q523 1059 420 998T235 907V1077Q383 1146 493 1245T650 1437H763Z"/><text x="15.35" y="0.00" font-size="27.6">0</text><text x="30.69" y="-12.62" font-size="18.6">9</text></g>
<g transform="translate(686.63 600.8) scale(1 1.070)"><path transform="translate(0.00 0.00) scale(0.01348 -0.01321)" d="M763 0H587V1120Q523 1059 420 998T235 907V1077Q383 1146 493 1245T650 1437H763Z"/><text x="15.35" y="0.00" font-size="27.6">0</text><path transform="translate(30.69 -12.62) scale(0.00908 -0.00891)" d="M763 0H587V1120Q523 1059 420 998T235 907V1077Q383 1146 493 1245T650 1437H763Z"/><text x="41.03" y="-12.62" font-size="18.6">0</text></g>
<g transform="translate(84.9 4.90) rotate(-90) scale(1 1.070)"><path transform="translate(-7.67 0.00) scale(0.01348 -0.01321)" d="M763 0H587V1120Q523 1059 420 998T235 907V1077Q383 1146 493 1245T650 1437H763Z"/></g>
<g transform="translate(84.9 152.28) rotate(-90) scale(1 1.070)"><text x="-19.18" y="0.00" font-size="27.6">0.</text><path transform="translate(3.84 0.00) scale(0.01348 -0.01321)" d="M763 0H587V1120Q523 1059 420 998T235 907V1077Q383 1146 493 1245T650 1437H763Z"/></g>
<g transform="translate(84.9 299.67) rotate(-90) scale(1 1.070)"><text x="-26.85" y="0.00" font-size="27.6">0.0</text><path transform="translate(11.51 0.00) scale(0.01348 -0.01321)" d="M763 0H587V1120Q523 1059 420 998T235 907V1077Q383 1146 493 1245T650 1437H763Z"/></g>
<g transform="translate(84.9 447.05) rotate(-90) scale(1 1.070)"><text x="-34.53" y="0.00" font-size="27.6">0.00</text><path transform="translate(19.18 0.00) scale(0.01348 -0.01321)" d="M763 0H587V1120Q523 1059 420 998T235 907V1077Q383 1146 493 1245T650 1437H763Z"/></g>
<text transform="translate(35.5 502.3) rotate(-90) scale(1 1.050)" text-anchor="middle">Counts</text>
<g transform="translate(28.9 319.9) rotate(-90)">
<ellipse cx="7.4" cy="-7.5" rx="5.6" ry="6.7" fill="none" stroke="#000" stroke-width="2.1"/><path d="M7.4 -19.8 V5.9" stroke="#000" stroke-width="1.7"/>
<g transform="translate(21.2 0) scale(1 1.040)"><text x="0.00" y="0.00" font-size="27.2">[Mpc</text><text x="58.94" y="-13.08" font-size="18.4">−3</text><text x="87.48" y="0.00" font-size="27.2">dex</text><text x="131.33" y="-13.08" font-size="18.4">−</text><path transform="translate(142.07 -13.08) scale(0.00898 -0.00881)" d="M763 0H587V1120Q523 1059 420 998T235 907V1077Q383 1146 493 1245T650 1437H763Z"/><text x="159.86" y="0.00" font-size="27.2">]</text></g>
</g>
<text transform="translate(421.6 650.4) scale(1 1.040)">M</text>
<text x="452.26" y="650.4">[</text>
<text transform="translate(459.94 650.4) scale(1 1.040)">M</text>
<circle cx="492.8" cy="649.8" r="7.6" fill="none" stroke="#000" stroke-width="1.8"/><circle cx="492.8" cy="649.8" r="2.6" fill="#000"/>
<text x="506.4" y="650.4">]</text>
</g>
</svg>
</body></html>
